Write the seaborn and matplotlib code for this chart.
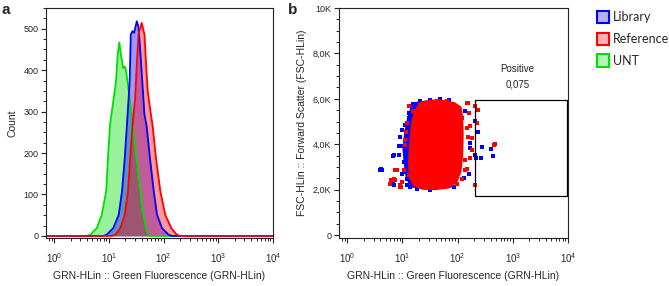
import matplotlib
matplotlib.use("Agg")
import matplotlib.pyplot as plt
from matplotlib.patches import Patch, Rectangle
from matplotlib.ticker import LogLocator, MultipleLocator, FixedLocator
import seaborn as sns
import numpy as np
import pandas as pd

sns.set_style("ticks")
plt.rcParams['font.family'] = ['Liberation Sans', 'DejaVu Sans']
plt.rcParams['mathtext.fontset'] = 'custom'
plt.rcParams['mathtext.rm'] = 'Liberation Sans'

# ---- panel a : histograms (x in log10 decades, counts) ----
unt_log = [-0.2, 0.60, 0.66, 0.78, 0.87, 0.95, 0.99, 1.02, 1.08, 1.13, 1.16, 1.19, 1.22,
           1.26, 1.29, 1.31, 1.34, 1.39, 1.44, 1.49, 1.54, 1.61, 1.69, 1.75, 4.1]
unt_cnt = [0, 0, 3, 19, 51, 108, 204, 268, 325, 373, 437, 467, 437,
           405, 409, 401, 373, 320, 268, 200, 148, 67, 11, 0, 0]

lib_log = [-0.2, 0.90, 0.96, 1.08, 1.18, 1.24, 1.29, 1.33, 1.38, 1.40, 1.43, 1.46, 1.51,
           1.54, 1.57, 1.61, 1.65, 1.69, 1.75, 1.82, 1.88, 1.97, 2.09, 2.15, 4.1]
lib_cnt = [0, 0, 3, 19, 51, 108, 188, 268, 373, 486, 494, 490, 518,
           505, 453, 373, 293, 265, 188, 108, 51, 19, 3, 0, 0]

ref_log = [-0.2, 1.05, 1.12, 1.21, 1.29, 1.35, 1.39, 1.43, 1.48, 1.51, 1.54, 1.60, 1.65,
           1.68, 1.71, 1.76, 1.80, 1.86, 1.94, 2.03, 2.14, 2.24, 2.30, 4.1]
ref_cnt = [0, 0, 3, 19, 51, 108, 188, 265, 333, 413, 486, 514, 486,
           413, 349, 300, 265, 188, 108, 51, 19, 3, 0, 0]

# ---- panel b : dot plot (x in log10 decades, y in K) ----
# dense cores of each population, outlined from the picture
lib_core_log = [1.20, 1.50, 1.90, 2.05, 2.08, 2.05, 1.90, 1.50, 1.15, 1.06, 1.02, 1.00, 1.03, 1.08, 1.14]
lib_core_k = [5.85, 5.95, 5.80, 5.30, 4.00, 2.80, 2.10, 1.98, 2.10, 2.50, 3.20, 3.80, 4.50, 5.10, 5.60]
ref_core_log = [1.30, 1.50, 1.75, 1.95, 2.07, 2.10, 2.11, 2.10, 2.07, 2.00, 1.85, 1.60, 1.35, 1.20,
                1.12, 1.10, 1.12, 1.15, 1.20]
ref_core_k = [5.85, 5.97, 5.95, 5.85, 5.65, 5.20, 4.40, 3.50, 2.80, 2.35, 2.05, 1.98, 2.00, 2.15,
              2.50, 3.20, 4.00, 4.80, 5.40]

# scattered events around the cores
lib_pts_log = [0.60, 0.62, 0.82, 0.82, 0.84, 0.98, 0.93, 1.02, 1.05, 1.11, 1.09, 1.08, 1.14, 1.26,
               1.38, 1.03, 2.31, 2.36, 2.44, 2.42, 2.61, 2.64, 2.33, 2.11, 2.23, 2.14, 1.50,
               1.68, 1.26, 0.63, 0.84, 0.93, 0.96, 0.99, 1.11, 1.20, 1.32, 1.50, 0.99, 1.08,
               1.50, 1.93, 2.20, 2.23, 2.32, 1.84, 1.68]
lib_pts_k = [2.86, 2.89, 3.47, 2.25, 2.22, 3.90, 3.52, 3.23, 4.86, 5.16, 4.27, 2.49, 2.12, 5.67,
             5.82, 2.79, 5.01, 4.56, 3.87, 3.38, 3.79, 3.50, 3.41, 2.52, 3.82, 5.45, 2.12,
             2.10, 2.04, 2.86, 3.52, 3.90, 4.34, 4.64, 5.38, 5.75, 5.90, 5.97, 2.71, 2.19,
             2.00, 2.12, 2.71, 4.04, 3.52, 5.94, 6.00]
ref_pts_log = [2.67, 2.65, 2.18, 2.31, 2.31, 2.14, 2.23, 2.26, 2.17, 0.80, 0.87, 0.97, 0.90,
               1.11, 1.12, 1.20, 1.05, 1.07, 1.81, 1.62, 2.08, 0.83, 0.96, 2.37, 2.35,
               2.17, 2.20, 2.23, 2.18, 2.26, 2.14, 2.17, 2.08, 1.99, 0.84, 0.78, 0.99, 0.87,
               1.08, 1.05, 1.02, 0.96]
ref_pts_k = [4.01, 3.95, 5.82, 5.70, 2.19, 2.86, 3.38, 4.27, 4.71, 2.44, 2.44, 2.12, 2.86,
             2.64, 5.70, 5.45, 3.97, 4.56, 5.92, 5.90, 5.16, 2.41, 2.12, 5.52, 4.93,
             5.82, 5.38, 4.79, 4.34, 3.75, 3.30, 2.93, 2.49, 2.27, 2.49, 2.27, 2.34, 2.86,
             4.93, 4.19, 2.86, 2.19]

gate_log = [2.31, 3.98]
gate_k = [1.73, 5.97]
gate_name = "Positive"
gate_value = "0,075"

series = ["Library", "Reference", "UNT"]
line_colors = {"Library": "#0000ff", "Reference": "#ff0000", "UNT": "#00dd00"}

fig = plt.figure(figsize=(6.69, 2.86), dpi=100)
ax_a = fig.add_axes([46 / 669, 1 - 238 / 286, 227 / 669, 230 / 286])
ax_b = fig.add_axes([339 / 669, 1 - 238 / 286, 229 / 669, 230 / 286])

# histograms: UNT under Library under Reference
for name, lx, cnt in [("UNT", unt_log, unt_cnt), ("Library", lib_log, lib_cnt),
                      ("Reference", ref_log, ref_cnt)]:
    df = pd.DataFrame({"x": np.power(10.0, lx), "count": cnt})
    ax_a.fill_between(df["x"], df["count"], 0, color=line_colors[name], alpha=0.4, linewidth=0)
    sns.lineplot(data=df, x="x", y="count", ax=ax_a, color=line_colors[name], lw=1.3,
                 sort=False, estimator=None)

fmt_fs = 6.5
lab_fs = 7.5
for ax in (ax_a, ax_b):
    ax.set_xscale("log")
    ax.set_xlim(10 ** -0.15, 10 ** 4)
    ax.xaxis.set_major_locator(FixedLocator([1, 10, 100, 1000, 10000]))
    ax.xaxis.set_minor_locator(LogLocator(base=10, subs=np.arange(2, 10)))
    ax.set_xticklabels([r"$\mathdefault{10^{%d}}$" % i for i in range(5)], fontsize=fmt_fs + 0.5)
    ax.tick_params(which="major", direction="out", length=3.5, width=0.8, pad=6)
    ax.tick_params(which="minor", direction="out", length=2, width=0.7)
    ax.tick_params(axis="y", labelsize=fmt_fs, pad=2)
    ax.set_xlabel("GRN-HLin :: Green Fluorescence (GRN-HLin)", fontsize=lab_fs, labelpad=4)
    for sp in ax.spines.values():
        sp.set_linewidth(0.8)
        sp.set_color("#222222")

ax_a.set_ylim(-5, 550)
ax_a.yaxis.set_major_locator(MultipleLocator(100))
ax_a.yaxis.set_minor_locator(MultipleLocator(25))
ax_a.set_ylabel("Count", fontsize=lab_fs, labelpad=4)

# dot plot
ax_b.fill(np.power(10.0, lib_core_log), np.array(lib_core_k) * 1000, color="#0000ff", lw=0)
lib_df = pd.DataFrame({"x": np.power(10.0, lib_pts_log), "y": np.array(lib_pts_k) * 1000})
ref_df = pd.DataFrame({"x": np.power(10.0, ref_pts_log), "y": np.array(ref_pts_k) * 1000})
sns.scatterplot(data=lib_df, x="x", y="y", color="#0000ff", marker="s", s=8,
                linewidth=0, ax=ax_b, zorder=2)
ax_b.fill(np.power(10.0, ref_core_log), np.array(ref_core_k) * 1000, color="#ff0000", lw=0,
          zorder=3)
sns.scatterplot(data=ref_df, x="x", y="y", color="#ff0000", marker="s", s=8,
                linewidth=0, ax=ax_b, zorder=3)
ax_b.set_xlabel("GRN-HLin :: Green Fluorescence (GRN-HLin)", fontsize=lab_fs, labelpad=4)
ax_b.set_ylim(-130, 10000)
ax_b.yaxis.set_major_locator(FixedLocator([0, 2000, 4000, 6000, 8000, 10000]))
ax_b.yaxis.set_minor_locator(MultipleLocator(500))
ax_b.set_yticklabels(["0", "2,0K", "4,0K", "6,0K", "8,0K", "10K"])
ax_b.set_ylabel("FSC-HLin :: Forward Scatter (FSC-HLin)", fontsize=lab_fs, labelpad=4)

gx = np.power(10.0, gate_log)
ax_b.add_patch(Rectangle((gx[0], gate_k[0] * 1000), gx[1] - gx[0], (gate_k[1] - gate_k[0]) * 1000,
                         fill=False, edgecolor="black", lw=0.9, zorder=4))
ax_b.text(10 ** 3.08, 7330, gate_name, ha="center", va="center", fontsize=7)
ax_b.text(10 ** 3.08, 6640, gate_value, ha="center", va="center", fontsize=7)

fig.text(2 / 669, 1 - 10 / 286, "a", fontsize=11, fontweight="bold", ha="left", va="center")
fig.text(288 / 669, 1 - 10 / 286, "b", fontsize=11, fontweight="bold", ha="left", va="center")

handles = [Patch(facecolor=matplotlib.colors.to_rgba(line_colors[n], 0.3),
                 edgecolor=line_colors[n], lw=1.5) for n in series]
fig.legend(handles, series, loc="upper left", bbox_to_anchor=(588 / 669, 1 - 2 / 286),
           frameon=False, handlelength=0.95, handleheight=1.15, handletextpad=0.35,
           labelspacing=0.75, borderpad=0.2, prop={"family": "Lato", "size": 9})

fig.savefig("out.png", dpi=100)
